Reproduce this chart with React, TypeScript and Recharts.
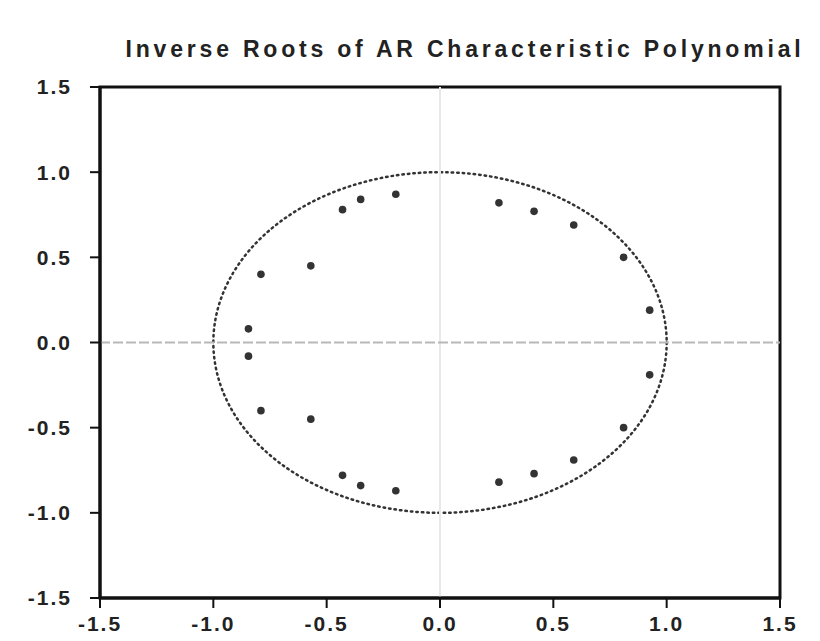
import React from 'react';
import { ScatterChart, Scatter, XAxis, YAxis, ReferenceLine, ReferenceArea } from 'recharts';

document.body.style.margin = '0';

// inverse roots (upper half; conjugates mirrored below)
const ROOT_RE = [-0.195, -0.35, -0.43, -0.57, -0.79, -0.845, 0.26, 0.415, 0.59, 0.81, 0.925];
const ROOT_IM = [0.87, 0.84, 0.78, 0.45, 0.4, 0.08, 0.82, 0.77, 0.69, 0.5, 0.19];
const TICKS = [-1.5, -1.0, -0.5, 0.0, 0.5, 1.0, 1.5];

const points = [
  ...ROOT_RE.map((re, i) => ({ x: re, y: ROOT_IM[i] })),
  ...ROOT_RE.map((re, i) => ({ x: re, y: -ROOT_IM[i] })),
];

const tickStyle = { fontSize: 21, fill: '#222', fontFamily: 'Liberation Sans, Arial, sans-serif', fontWeight: 700, letterSpacing: 2 };

const UnitCircle = (props: any) => {
  const { x, y, width, height } = props;
  return (
    <ellipse cx={x + width / 2} cy={y + height / 2} rx={width / 2} ry={height / 2} fill="none" stroke="#333" strokeWidth={2.5} strokeDasharray="1.5 4" strokeLinecap="round" />
  );
};

export default function App() {
  return (
    <div style={{ position: 'relative', width: 820, height: 641, background: '#fff' }}>
      <div style={{ position: 'absolute', left: 110, top: 36, width: 710, textAlign: 'center', fontFamily: 'Liberation Sans, Arial, sans-serif', fontWeight: 700, fontSize: 23, letterSpacing: 3.8, color: '#222', whiteSpace: 'nowrap' }}>
        Inverse Roots of AR Characteristic Polynomial
      </div>
      <ScatterChart width={820} height={641} margin={{ top: 87, right: 40, bottom: 3, left: 30 }}>
        <XAxis type="number" dataKey="x" domain={[-1.5, 1.5]} ticks={TICKS} tickFormatter={(v) => v.toFixed(1)} tick={tickStyle} axisLine={{ stroke: '#111', strokeWidth: 3 }} tickLine={{ stroke: '#111', strokeWidth: 2 }} tickSize={10} tickMargin={8} height={40} allowDataOverflow />
        <YAxis type="number" dataKey="y" domain={[-1.5, 1.5]} ticks={TICKS} tickFormatter={(v) => v.toFixed(1)} tick={tickStyle} axisLine={{ stroke: '#111', strokeWidth: 3 }} tickLine={{ stroke: '#111', strokeWidth: 2 }} tickSize={10} tickMargin={18} width={70} allowDataOverflow />
        <ReferenceArea x1={-1.5} x2={1.5} y1={-1.5} y2={1.5} fill="none" stroke="#111" strokeWidth={3} fillOpacity={0} />
        <ReferenceLine x={0} stroke="#e8e8e8" strokeWidth={2} />
        <ReferenceLine y={0} stroke="#b8b8b8" strokeWidth={2} strokeDasharray="10 3" />
        <ReferenceArea x1={-1} x2={1} y1={-1} y2={1} shape={UnitCircle} />
        <Scatter data={points} fill="#333" isAnimationActive={false} shape={(p: any) => <circle cx={p.cx} cy={p.cy} r={3.8} fill="#333" />} />
      </ScatterChart>
    </div>
  );
}
